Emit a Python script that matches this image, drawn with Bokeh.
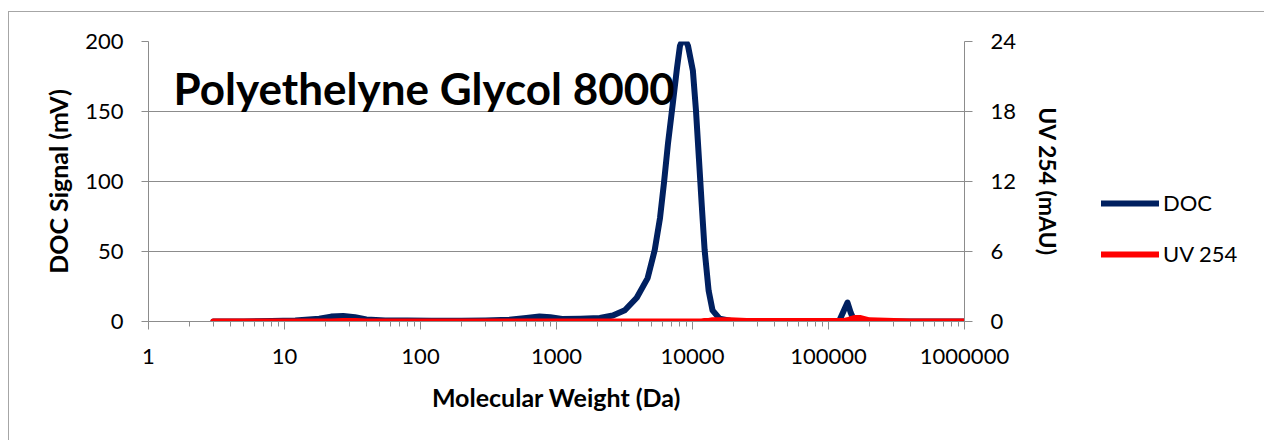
from bokeh.plotting import figure
from bokeh.layouts import row
from bokeh.models import (Range1d, LinearAxis, FixedTicker, Legend, LegendItem, Label)
from bokeh.embed import file_html
from bokeh.resources import INLINE

# ---- data ----
mw = [3, 5, 8, 12, 18, 22, 27, 33, 40, 55, 80, 120, 200, 300, 450, 600, 750, 900,
      1100, 1500, 2084, 2594, 3180, 3890, 4680, 5275, 5770, 6170, 6600, 7170, 7690,
      8090, 8660, 9260, 10070, 10600, 11140, 11680, 12280, 13140, 14040, 15810,
      18900, 25000, 40000, 80000, 120000, 130000, 138000, 146000, 155000, 170000,
      200000, 400000, 1000000]
doc_mv = [0, 0, 0.3, 0.8, 2, 3.5, 4, 3, 1.5, 0.8, 0.7, 0.5, 0.5, 0.8, 1.2, 2.5, 3.5, 3,
          1.8, 2, 2.5, 4.3, 8, 17, 31, 51, 74, 99, 127, 156, 181,
          197, 203, 197, 179, 151, 117, 84, 51, 22, 8, 2,
          0.5, 0, 0, 0, 0.5, 8, 13.5, 6, 0.5, 0,
          0, 0, 0]
uv_mau = [0, 0, 0, 0, 0, 0, 0.05, 0.05, 0, 0, 0, 0, 0, 0, 0, 0, 0, 0,
          0, 0, 0, 0, 0, 0, 0, 0, 0, 0, 0, 0, 0,
          0, 0, 0, 0, 0, 0, 0, 0.05, 0.05, 0.1, 0.1,
          0.1, 0.05, 0.05, 0.05, 0.05, 0.05, 0.1, 0.2, 0.3, 0.3,
          0.1, 0, 0]

x_ticks = [1, 10, 100, 1000, 10000, 100000, 1000000]
x_tick_labels = ["1", "10", "100", "1000", "10000", "100000", "1000000"]
left_ticks = [0, 50, 100, 150, 200]
right_ticks = [0, 6, 12, 18, 24]
series_names = ["DOC", "UV 254"]
series_colors = ["#002060", "#ff0000"]
title_text = "Polyethelyne Glycol 8000"

FONT = "Lato"
GRID = "#8c8c8c"
AX = "#8c8c8c"
LW = 6

p = figure(width=1056, height=428, x_axis_type="log",
           x_range=Range1d(1, 1000000), y_range=Range1d(0, 200),
           output_backend="svg", toolbar_location=None,
           min_border_left=139, min_border_right=100,
           min_border_top=29, min_border_bottom=119)
p.outline_line_color = None
p.extra_y_ranges = {"uv": Range1d(0, 24)}

# grid
p.xgrid.grid_line_color = None
p.ygrid.grid_line_color = GRID
p.ygrid.grid_line_width = 1
p.ygrid.ticker = FixedTicker(ticks=left_ticks)

# x axis
minor = [m * d for d in [1, 10, 100, 1000, 10000, 100000] for m in range(2, 10)]
xa = p.xaxis[0]
xa.ticker = FixedTicker(ticks=x_ticks, minor_ticks=minor)
xa.major_label_overrides = {t: l for t, l in zip(x_ticks, x_tick_labels)}
xa.axis_label = "Molecular Weight (Da)"
xa.axis_line_color = AX
xa.major_tick_line_color = AX
xa.minor_tick_line_color = AX
xa.major_tick_in = 0
xa.major_tick_out = 8
xa.minor_tick_in = 0
xa.minor_tick_out = 5
xa.major_label_standoff = 19
xa.axis_label_standoff = 15

# left axis
ya = p.yaxis[0]
ya.ticker = FixedTicker(ticks=left_ticks)
ya.axis_label = "DOC Signal (mV)"
ya.minor_tick_line_color = None
ya.major_tick_in = 0
ya.major_tick_out = 7
ya.major_label_standoff = 18
ya.axis_label_standoff = 9
ya.axis_line_color = AX
ya.major_tick_line_color = AX

# right axis
ra = LinearAxis(y_range_name="uv", ticker=FixedTicker(ticks=right_ticks),
                axis_label="UV 254 (mAU)")
ra.minor_tick_line_color = None
ra.major_tick_in = 0
ra.major_tick_out = 8
ra.major_label_standoff = 18
ra.axis_label_standoff = 15
ra.axis_line_color = AX
ra.major_tick_line_color = AX
p.add_layout(ra, "right")

for ax in [xa, ya, ra]:
    ax.major_label_text_font = FONT
    ax.major_label_text_font_size = "22px"
    ax.major_label_text_color = "#000000"
    ax.axis_label_text_font = FONT
    ax.axis_label_text_font_size = "25px"
    ax.axis_label_text_font_style = "bold"
    ax.axis_label_text_color = "#000000"
ra.axis_label_text_font_size = "23px"

p.line(mw, doc_mv, line_color=series_colors[0], line_width=LW, line_cap="round",
       line_join="round")
p.line(mw, uv_mau, y_range_name="uv", line_color=series_colors[1], line_width=LW,
       line_cap="round", line_join="round")

title = Label(x=1.53, y=167, text=title_text, text_font=FONT,
              text_font_size="44px", text_font_style="bold", text_color="#000000",
              text_baseline="alphabetic")
p.add_layout(title)

# legend panel (separate figure to the right of the chart); its renderers are
# hidden copies of the two series, used only as legend keys
pl = figure(width=199, height=428, x_range=Range1d(0, 1), y_range=Range1d(0, 1),
            x_axis_location=None, y_axis_location=None,
            output_backend="svg", toolbar_location=None,
            min_border_left=0, min_border_right=0, min_border_top=0, min_border_bottom=0)
pl.outline_line_color = None
pl.xgrid.grid_line_color = None
pl.ygrid.grid_line_color = None
items = []
for name, col, ys in zip(series_names, series_colors, [doc_mv, uv_mau]):
    r = pl.line(mw, ys, line_color=col, line_width=LW, line_cap="round", visible=False)
    items.append(LegendItem(label=name, renderers=[r]))
legend = Legend(items=items, location=(36, 54), orientation="vertical")
legend.label_text_font = FONT
legend.label_text_font_size = "22px"
legend.label_text_color = "#000000"
legend.glyph_width = 58
legend.glyph_height = 24
legend.label_height = 24
legend.label_standoff = 4
legend.spacing = 24
legend.padding = 0
legend.margin = 0
legend.border_line_color = None
legend.background_fill_alpha = 0
legend.click_policy = "none"
pl.add_layout(legend)

layout = row(p, pl, spacing=0)
layout.styles = {"margin-left": "8px", "margin-top": "11px",
                 "border-left": "1px solid #a6a6a6", "border-top": "1px solid #a6a6a6"}

open("out.html", "w").write(file_html(layout, INLINE))
